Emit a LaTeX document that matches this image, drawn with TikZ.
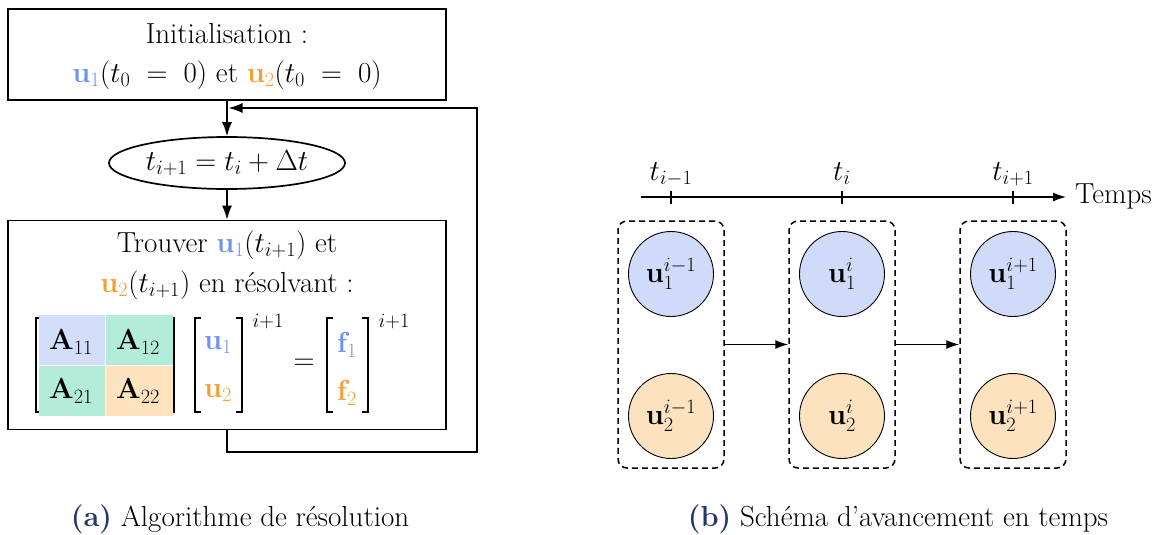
\RequirePackage{fix-cm}
\documentclass[tikz,border=0pt]{standalone}
\usepackage{graphicx}
\usetikzlibrary{shapes.geometric,arrows.meta}
\definecolor{ublue}{HTML}{6F93F5}
\definecolor{uorange}{HTML}{F5A032}
\definecolor{cellblue}{HTML}{D3DEFA}
\definecolor{cellgreen}{HTML}{B3EDDA}
\definecolor{cellorange}{HTML}{FFE3BF}
\definecolor{circblue}{HTML}{CFDBF8}
\definecolor{circorange}{HTML}{FCE2BF}
\definecolor{capnavy}{HTML}{26386B}
\begin{document}
\begin{tikzpicture}[x=1pt,y=-1pt,font=\fontsize{29}{33}\selectfont,
  box/.style={draw,line width=1.7pt,inner sep=0pt},
  txt/.style={inner sep=0pt},
  arr/.style={-{Latex[length=14pt,width=10pt]},line width=1.5pt},
  arrb/.style={-{Latex[length=13pt,width=9pt]},line width=1.3pt},
  brk/.style={line width=1.8pt},
  dbox/.style={draw,dashed,dash pattern=on 6pt off 4pt,line width=1.5pt,rounded corners=9pt,minimum width=106pt,minimum height=247pt,inner sep=0pt},
  circ/.style={circle,draw,line width=0.9pt,minimum size=85pt,inner sep=0pt},
  tick/.style={line width=1.1pt}]
\useasboundingbox (0,0) rectangle (1170,535);
% ---------- panel (a) ----------
\node[box,minimum width=438pt,minimum height=91pt] (init) at (227,54.5) {};
\node[txt] (initA) at (227,34) {Initialisation :};
\node[txt] (initB) at (227,75) {$\color{ublue}\mathbf{u}_1\color{black}(t_0 \;=\; 0)$ et $\color{uorange}\mathbf{u}_2\color{black}(t_0 \;=\; 0)$};
\node[ellipse,draw,line width=1.7pt,minimum width=236pt,minimum height=52pt,inner sep=0pt] (incr) at (227,163) {$t_{i+1} = t_i + \Delta t$};
\node[box,minimum width=438pt,minimum height=209pt] (solve) at (227,325) {};
\node[txt] (solveA) at (227,245) {Trouver $\color{ublue}\mathbf{u}_1\color{black}(t_{i+1})$ et};
\node[txt] (solveB) at (227,285) {$\color{uorange}\mathbf{u}_2\color{black}(t_{i+1})$ en résolvant :};
\draw[arr] (init.south) -- (incr.north);
\draw[arr] (incr.south) -- (solve.north);
\coordinate (fb) at (228.5,108);
\draw[arr] (solve.south) -- ++(0,21.5) -| (477,108) -- (fb);
% matrix brackets
\draw[brk] (42,318) -| (36,412) -- (42,412);
\draw[brk] (168,318) -| (174,412) -- (168,412);
% matrix cells
\fill[cellblue] (38.5,315) rectangle (105.5,365);
\fill[cellgreen] (105.5,315) rectangle (173,365);
\fill[cellgreen] (38.5,365) rectangle (105.5,416);
\fill[cellorange] (105.5,365) rectangle (173,416);
\draw[white,line width=0.8pt] (38.5,365) -- (173,365);
\draw[white,line width=0.8pt] (105.5,315) -- (105.5,416);
\node[txt] (a11) at (71,342) {$\mathbf{A}_{11}$};
\node[txt] (a12) at (138,342) {$\mathbf{A}_{12}$};
\node[txt] (a21) at (71,391) {$\mathbf{A}_{21}$};
\node[txt] (a22) at (138,391) {$\mathbf{A}_{22}$};
% vector u
\draw[brk] (201,318) -| (195,412) -- (201,412);
\draw[brk] (236,318) -| (242,412) -- (236,412);
\node[txt] (vu1) at (218,345) {$\color{ublue}\mathbf{u}_1$};
\node[txt] (vu2) at (218,393) {$\color{uorange}\mathbf{u}_2$};
\node[txt] (supu) at (268,321) {$\scriptstyle i+1$};
\node[txt] (eq) at (304,364) {$=$};
% vector f
\draw[brk] (333,318) -| (327,412) -- (333,412);
\draw[brk] (362,318) -| (368,412) -- (362,412);
\node[txt] (vf1) at (347,345) {$\color{ublue}\mathbf{f}_1$};
\node[txt] (vf2) at (347,393) {$\color{uorange}\mathbf{f}_2$};
\node[txt] (supf) at (394,321) {$\scriptstyle i+1$};
% ---------- panel (b) ----------
\coordinate (ax0) at (641,197);
\coordinate (ax1) at (1066,197);
\draw[arrb] (ax0) -- (ax1);
\node[txt,anchor=west] (temps) at (1075,196) {Temps};
\foreach \x/\lab/\n in {671/{i-1}/1,842/{i}/2,1013/{i+1}/3}{
  \coordinate (tk\n) at (\x,190.5);
  \draw[tick] (tk\n) -- ++(0,13.5);
  \node[txt,anchor=base] (tl\n) at (\x,180) {$t_{\lab}$};
  \node[dbox] (bx\n) at (\x,344.5) {};
  \node[circ,fill=circblue] (ua\n) at (\x,274) {$\mathbf{u}_1^{\lab}$};
  \node[circ,fill=circorange] (ub\n) at (\x,416) {$\mathbf{u}_2^{\lab}$};
}
\draw[arrb] (bx1.east) -- (bx2.west);
\draw[arrb] (bx2.east) -- (bx3.west);
% ---------- captions ----------
\node[txt] (capa) at (240,519) {\textcolor{capnavy}{\textbf{(a)}} Algorithme de résolution};
\node[txt] (capb) at (898,519) {\textcolor{capnavy}{\textbf{(b)}} Schéma d’avancement en temps};
\end{tikzpicture}
\end{document}
